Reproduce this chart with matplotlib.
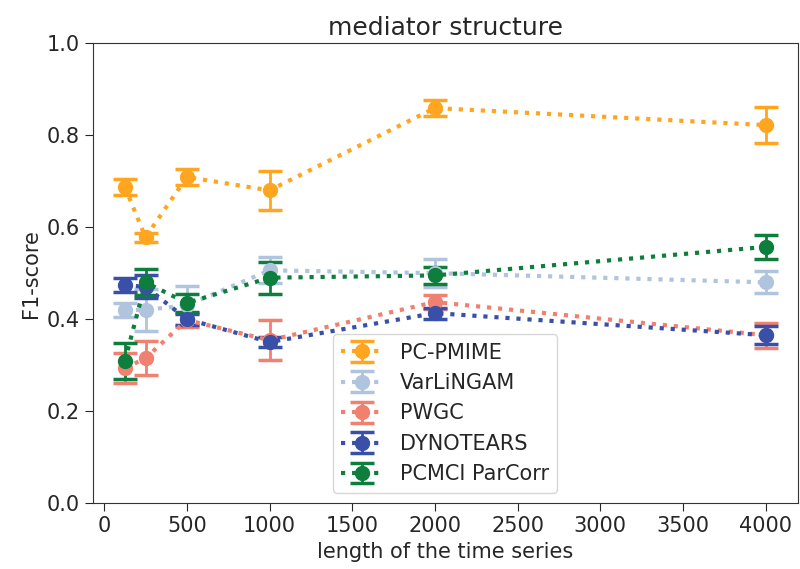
import matplotlib
matplotlib.use("Agg")
import matplotlib.pyplot as plt

# length of the time series
lengths = [125, 250, 500, 1000, 2000, 4000]

methods = ["PC-PMIME", "VarLiNGAM", "PWGC", "DYNOTEARS", "PCMCI ParCorr"]
colors = ["#FFA51F", "#B0C4DE", "#F08070", "#3A4FA8", "#0E7E3C"]

pcpmime = [0.687, 0.578, 0.709, 0.680, 0.859, 0.822]
pcpmime_err = [0.018, 0.010, 0.018, 0.043, 0.018, 0.039]

varlingam = [0.420, 0.420, 0.430, 0.506, 0.500, 0.480]
varlingam_err = [0.015, 0.045, 0.043, 0.028, 0.030, 0.024]

pwgc = [0.293, 0.315, 0.398, 0.354, 0.437, 0.365]
pwgc_err = [0.033, 0.037, 0.015, 0.044, 0.015, 0.027]

dynotears = [0.474, 0.470, 0.400, 0.350, 0.413, 0.365]
dynotears_err = [0.015, 0.025, 0.012, 0.010, 0.012, 0.020]

pcmci = [0.309, 0.480, 0.435, 0.490, 0.495, 0.557]
pcmci_err = [0.040, 0.028, 0.020, 0.035, 0.018, 0.026]

values = [pcpmime, varlingam, pwgc, dynotears, pcmci]
errors = [pcpmime_err, varlingam_err, pwgc_err, dynotears_err, pcmci_err]

plt.rcParams["text.color"] = "0.15"
plt.rcParams["axes.labelcolor"] = "0.15"
plt.rcParams["xtick.color"] = "0.15"
plt.rcParams["ytick.color"] = "0.15"
plt.rcParams["axes.edgecolor"] = "0.2"

fig = plt.figure(figsize=(8, 5.69), dpi=100)
ax = fig.add_axes([0.116, 0.116, 0.881, 0.808])

for name, c, y, e in zip(methods, colors, values, errors):
    ax.errorbar(lengths, y, yerr=e, color=c, linestyle=":", linewidth=3,
                marker="o", markersize=10, capsize=8.5, capthick=2.5,
                elinewidth=2, label=name)

ax.set_ylim(0, 1.0)
ax.set_title("mediator structure", fontsize=18)
ax.set_xlabel("length of the time series", fontsize=15)
ax.set_ylabel("F1-score", fontsize=15)
ax.tick_params(labelsize=15, length=6)
ax.legend(loc="lower center", fontsize=15)

fig.savefig("out.png", dpi=100)
